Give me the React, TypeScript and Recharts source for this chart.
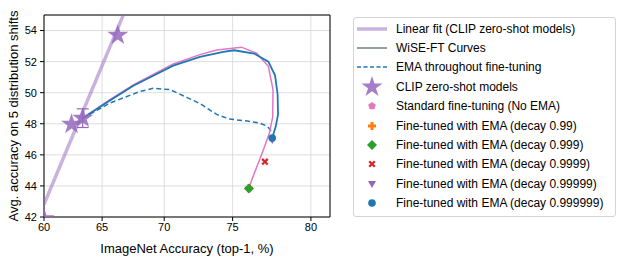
import React from "react";
import {
  ScatterChart,
  Scatter,
  XAxis,
  YAxis,
  CartesianGrid,
  ReferenceLine,
  ErrorBar,
  Legend,
} from "recharts";

// x axis in the original is logit-scaled, so points go through logit before plotting
const logit = (p: number) => Math.log(p / (100 - p));
const unlogit = (v: number) => 100 / (1 + Math.exp(-v));

const xTicks = [60, 65, 70, 75, 80];
const yTicks = [42, 44, 46, 48, 50, 52, 54];
const X_MIN = logit(60);
const X_MAX = logit(81.1);

// linear fit through CLIP zero-shot models (ImageNet acc, avg shift acc)
const fitX = [60, 67.28];
const fitY = [42.82, 56];

// CLIP zero-shot models
const zsX = [60.0, 62.4, 63.36, 66.3];
const zsY = [41.9, 47.97, 48.36, 53.7];
const zsErr = [0, 0, 0.6, 0];

// WiSE-FT curve, standard fine-tuning (pink)
const wiseStdX = [63.36, 65.65, 67.56, 70.69, 72.68, 73.89, 75.6, 76.62, 77.38, 77.68, 77.66, 77.45, 77.05, 76.29, 76.11];
const wiseStdY = [48.36, 49.55, 50.5, 51.85, 52.45, 52.75, 52.93, 52.54, 51.7, 50.2, 48.45, 47.4, 46.3, 44.37, 43.85];

// WiSE-FT curve, EMA 0.999999 (blue)
const wiseEmaX = [63.36, 65.65, 67.56, 68.63, 70.69, 72.68, 74.35, 75.1, 76.45, 77.38, 77.81, 77.97, 78.0, 77.85, 77.65];
const wiseEmaY = [48.36, 49.5, 50.45, 50.88, 51.74, 52.3, 52.63, 52.73, 52.52, 52.0, 51.12, 49.9, 48.6, 47.82, 47.15];

// EMA throughout fine-tuning (dashed)
const emaX = [63.36, 65.65, 68.09, 69.14, 70.44, 71.7, 72.68, 73.89, 74.8, 76.0, 76.83, 77.3, 77.6];
const emaY = [48.36, 49.33, 50.08, 50.28, 50.2, 49.7, 49.3, 48.6, 48.3, 48.18, 48.04, 47.85, 47.5];

// end points of fine-tuning runs
const ftNames = ["std", "0.99", "0.999", "0.9999", "0.99999", "0.999999"];
const ftX = [76.11, 76.1, 76.11, 77.16, 77.63, 77.63];
const ftY = [43.85, 43.85, 43.84, 45.56, 46.96, 47.08];

const legendLabels = [
  "Linear fit (CLIP zero-shot models)",
  "WiSE-FT Curves",
  "EMA throughout fine-tuning",
  "CLIP zero-shot models",
  "Standard fine-tuning (No EMA)",
  "Fine-tuned with EMA (decay 0.99)",
  "Fine-tuned with EMA (decay 0.999)",
  "Fine-tuned with EMA (decay 0.9999)",
  "Fine-tuned with EMA (decay 0.99999)",
  "Fine-tuned with EMA (decay 0.999999)",
];

const BLUE = "#1f77b4";
const ORANGE = "#ff7f0e";
const GREEN = "#2ca02c";
const RED = "#d62728";
const PURPLE = "#9467bd";
const PINK = "#e377c2";

const toPts = (xs: number[], ys: number[]) => xs.map((x, i) => ({ x: logit(x), y: ys[i] }));

const zsData = zsX.map((x, i) => ({ x: logit(x), y: zsY[i], err: zsErr[i] || undefined }));

function polyPath(cx: number, cy: number, pts: [number, number][]) {
  return pts.map((p, i) => (i ? "L" : "M") + (cx + p[0]) + "," + (cy + p[1])).join("") + "Z";
}

function starPath(cx: number, cy: number, R: number) {
  const pts: [number, number][] = [];
  for (let i = 0; i < 10; i++) {
    const r = i % 2 === 0 ? R : R * 0.382;
    const a = -Math.PI / 2 + (i * Math.PI) / 5;
    pts.push([r * Math.cos(a), r * Math.sin(a)]);
  }
  return polyPath(cx, cy, pts);
}

function pentPath(cx: number, cy: number, R: number) {
  const pts: [number, number][] = [];
  for (let i = 0; i < 5; i++) {
    const a = -Math.PI / 2 + (i * 2 * Math.PI) / 5;
    pts.push([R * Math.cos(a), R * Math.sin(a)]);
  }
  return polyPath(cx, cy, pts);
}

function plusPath(cx: number, cy: number, s: number) {
  const t = s / 2.6;
  return polyPath(cx, cy, [
    [-t, -s], [t, -s], [t, -t], [s, -t], [s, t], [t, t],
    [t, s], [-t, s], [-t, t], [-s, t], [-s, -t], [-t, -t],
  ]);
}

// filled "X" marker
function xPath(cx: number, cy: number, s: number) {
  const t = s * 0.45;
  return polyPath(cx, cy, [
    [-s + t, -s], [0, -t], [s - t, -s], [s, -s + t], [t, 0], [s, s - t],
    [s - t, s], [0, t], [-s + t, s], [-s, s - t], [-t, 0], [-s, -s + t],
  ]);
}

function Marker({ kind, cx, cy }: { kind: string; cx: number; cy: number }) {
  switch (kind) {
    case "star":
      return <path d={starPath(cx, cy, 11)} fill={PURPLE} fillOpacity={0.85} />;
    case "std":
      return <path d={pentPath(cx, cy, 4)} fill={PINK} />;
    case "0.99":
      return <path d={plusPath(cx, cy, 4)} fill={ORANGE} />;
    case "0.999":
      return <path d={polyPath(cx, cy, [[0, -5], [5, 0], [0, 5], [-5, 0]])} fill={GREEN} />;
    case "0.9999":
      return <path d={xPath(cx, cy, 3.6)} fill={RED} />;
    case "0.99999":
      return <path d={polyPath(cx, cy, [[-4, -3], [4, -3], [0, 4]])} fill={PURPLE} />;
    case "0.999999":
      return <circle cx={cx} cy={cy} r={3.8} fill={BLUE} />;
    default:
      return <g />;
  }
}

const noDot = () => <g />;

function LegendHandle({ i }: { i: number }) {
  const w = 32;
  const h = 18;
  const c = h / 2;
  let el: React.ReactNode = null;
  if (i === 0) el = <line x1={1} x2={31} y1={c} y2={c} stroke={PURPLE} strokeOpacity={0.5} strokeWidth={3.5} />;
  else if (i === 1) el = <line x1={1} x2={31} y1={c} y2={c} stroke="#6f7f8f" strokeWidth={1.5} />;
  else if (i === 2) el = <line x1={1} x2={31} y1={c} y2={c} stroke={BLUE} strokeWidth={1.5} strokeDasharray="4 2.5" />;
  else if (i === 3) el = <Marker kind="star" cx={16} cy={c} />;
  else el = <Marker kind={ftNames[i - 4]} cx={16} cy={c} />;
  return (
    <svg width={w} height={h} style={{ overflow: "visible", flex: "none" }}>
      {el}
    </svg>
  );
}

function LegendBox() {
  return (
    <div
      style={{
        border: "1px solid #d4d4d4",
        borderRadius: 3,
        background: "#fff",
        padding: "1px 6px 3px 2px",
        fontSize: 12,
        color: "#000",
        fontFamily: "'Liberation Sans', Arial, sans-serif",
      }}
    >
      {legendLabels.map((label, i) => (
        <div key={label} style={{ display: "flex", alignItems: "center", height: 19.4 }}>
          <LegendHandle i={i} />
          <span style={{ marginLeft: 8, whiteSpace: "nowrap" }}>{label}</span>
        </div>
      ))}
    </div>
  );
}

function XLabel(props: any) {
  const vb = props.viewBox || { x: 44, y: 217, width: 286 };
  return (
    <text x={vb.x + vb.width / 2} y={vb.y + 31} textAnchor="middle" dominantBaseline="central" fontSize={13} fill="#000">
      ImageNet Accuracy (top-1, %)
    </text>
  );
}

function YLabel(props: any) {
  const vb = props.viewBox || { x: 0, y: 15, height: 202 };
  const cx = 13;
  const cy = vb.y + vb.height / 2;
  return (
    <text x={cx} y={cy} transform={`rotate(-90, ${cx}, ${cy})`} textAnchor="middle" dominantBaseline="central" fontSize={13} fill="#000">
      Avg. accuracy on 5 distribution shifts
    </text>
  );
}

export default function App() {
  return (
    <div
      style={{
        position: "absolute",
        left: 0,
        top: 0,
        width: 623,
        height: 262,
        background: "#fff",
        fontFamily: "'Liberation Sans', Arial, sans-serif",
      }}
    >
      <ScatterChart width={623} height={262} margin={{ top: 15, right: 293, bottom: 0, left: 0 }}>
        <CartesianGrid stroke="#d6d6d6" strokeWidth={0.8} />
        <XAxis
          type="number"
          dataKey="x"
          domain={[X_MIN, X_MAX]}
          ticks={xTicks.map(logit)}
          tickFormatter={(v: number) => String(Math.round(unlogit(v)))}
          allowDataOverflow
          height={45}
          stroke="#000"
          tick={{ fill: "#000", fontSize: 11 }}
          tickSize={4}
          tickMargin={2}
          label={<XLabel />}
        />
        <YAxis
          type="number"
          dataKey="y"
          domain={[42, 55]}
          ticks={yTicks}
          allowDataOverflow
          width={44}
          stroke="#000"
          tick={{ fill: "#000", fontSize: 11 }}
          tickSize={4}
          tickMargin={3}
          label={<YLabel />}
        />
        <ReferenceLine y={55} stroke="#000" strokeWidth={1} />
        <ReferenceLine x={X_MAX} stroke="#000" strokeWidth={1} />
        <Scatter
          data={toPts(fitX, fitY)}
          line={{ stroke: PURPLE, strokeOpacity: 0.5, strokeWidth: 3.5 }}
          shape={noDot}
          isAnimationActive={false}
        />
        <Scatter
          data={toPts(emaX, emaY)}
          line={{ stroke: BLUE, strokeWidth: 1.5, strokeDasharray: "5 3" }}
          shape={noDot}
          isAnimationActive={false}
        />
        <Scatter
          data={toPts(wiseStdX, wiseStdY)}
          line={{ stroke: PINK, strokeWidth: 1.5 }}
          shape={noDot}
          isAnimationActive={false}
        />
        <Scatter
          data={toPts(wiseEmaX, wiseEmaY)}
          line={{ stroke: BLUE, strokeWidth: 1.8 }}
          shape={noDot}
          isAnimationActive={false}
        />
        <Scatter
          data={zsData}
          shape={(p: any) => <Marker kind="star" cx={p.cx} cy={p.cy} />}
          isAnimationActive={false}
        >
          <ErrorBar dataKey="err" direction="y" stroke={PURPLE} strokeWidth={1.2} width={6} />
        </Scatter>
        {ftNames.map((name, i) => (
          <Scatter
            key={name}
            data={[{ x: logit(ftX[i]), y: ftY[i] }]}
            shape={(p: any) => <Marker kind={name} cx={p.cx} cy={p.cy} />}
            isAnimationActive={false}
          />
        ))}
        <Legend
          layout="horizontal"
          verticalAlign="middle"
          align="center"
          wrapperStyle={{ left: 353, top: 17, width: 263 }}
          content={() => <LegendBox />}
        />
      </ScatterChart>
    </div>
  );
}
